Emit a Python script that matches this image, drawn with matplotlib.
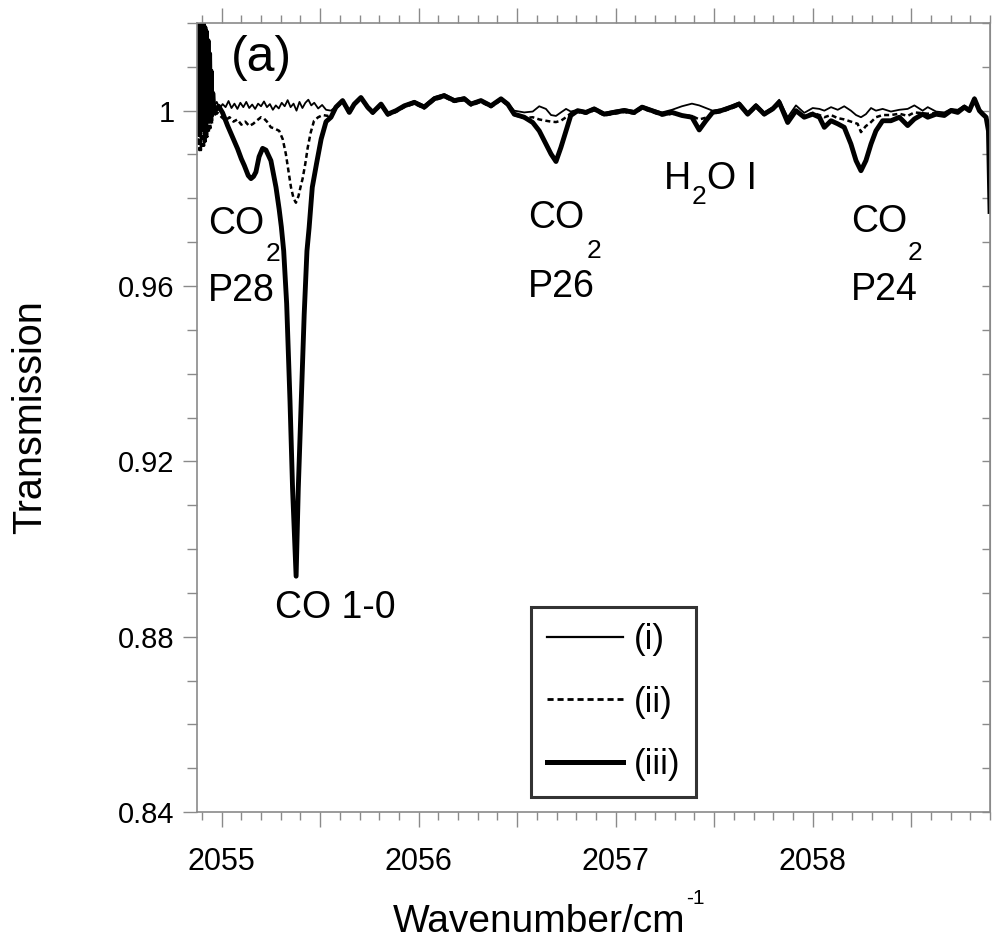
import matplotlib
matplotlib.use("Agg")
import matplotlib.pyplot as plt
from matplotlib.ticker import MultipleLocator, FuncFormatter
from matplotlib.lines import Line2D

# ---- data ------------------------------------------------------------------
wn_iii = [
    2054.875, 2054.879, 2054.883, 2054.887, 2054.891, 2054.895, 2054.899, 2054.903,
    2054.907, 2054.911, 2054.915, 2054.919, 2054.923, 2054.927, 2054.931, 2054.935,
    2054.939, 2054.943, 2054.947, 2054.951, 2054.955, 2054.962, 2054.985, 2055.005,
    2055.030, 2055.055, 2055.081, 2055.100, 2055.115, 2055.135, 2055.149, 2055.162,
    2055.174, 2055.190, 2055.208, 2055.225, 2055.250, 2055.276, 2055.292, 2055.303,
    2055.315, 2055.330, 2055.347, 2055.360, 2055.378, 2055.389, 2055.404, 2055.419,
    2055.433, 2055.444, 2055.460, 2055.482, 2055.505, 2055.530, 2055.555, 2055.580,
    2055.614, 2055.648, 2055.673, 2055.707, 2055.741, 2055.767, 2055.809, 2055.843,
    2055.885, 2055.927, 2055.978, 2056.028, 2056.079, 2056.130, 2056.181, 2056.232,
    2056.265, 2056.316, 2056.367, 2056.418, 2056.452, 2056.485, 2056.536, 2056.579,
    2056.612, 2056.646, 2056.672, 2056.697, 2056.722, 2056.748, 2056.772, 2056.807,
    2056.849, 2056.891, 2056.942, 2056.993, 2057.044, 2057.094, 2057.134, 2057.184,
    2057.235, 2057.286, 2057.336, 2057.387, 2057.424, 2057.458, 2057.492, 2057.535,
    2057.586, 2057.627, 2057.670, 2057.712, 2057.754, 2057.797, 2057.830, 2057.873,
    2057.915, 2057.957, 2058.000, 2058.034, 2058.059, 2058.093, 2058.127, 2058.160,
    2058.194, 2058.220, 2058.245, 2058.270, 2058.296, 2058.321, 2058.355, 2058.397,
    2058.440, 2058.482, 2058.516, 2058.558, 2058.584, 2058.626, 2058.668, 2058.702,
    2058.736, 2058.770, 2058.795, 2058.821, 2058.846, 2058.863, 2058.880, 2058.892,
    2058.900,
]
tr_iii = [
    1.021, 0.995, 1.021, 0.996, 1.021, 0.996, 1.020, 0.997,
    1.020, 0.997, 1.019, 0.997, 1.018, 0.998, 1.016, 0.998,
    1.013, 0.999, 1.009, 0.999, 1.004, 0.9996, 1.0010, 0.9995,
    0.9966, 0.9940, 0.9913, 0.9890, 0.9875, 0.9852, 0.9845, 0.9850,
    0.9860, 0.9895, 0.9914, 0.9910, 0.9886, 0.9825, 0.9775, 0.9735,
    0.9680, 0.9560, 0.9337, 0.9138, 0.8938, 0.9138, 0.9337, 0.9535,
    0.9680, 0.9733, 0.9825, 0.9880, 0.9935, 0.9975, 0.9985, 1.0008,
    1.0023, 0.9996, 1.0015, 1.0030, 1.0008, 0.9996, 1.0015, 0.9992,
    1.0000, 1.0011, 1.0019, 1.0008, 1.0027, 1.0034, 1.0023, 1.0027,
    1.0015, 1.0023, 1.0011, 1.0027, 1.0015, 0.9992, 0.9985, 0.9973,
    0.9954, 0.9924, 0.9901, 0.9884, 0.9916, 0.9954, 0.9989, 1.0000,
    0.9996, 1.0004, 0.9992, 0.9996, 1.0000, 0.9996, 1.0008, 1.0000,
    0.9992, 0.9996, 0.9989, 0.9985, 0.9956, 0.9977, 0.9996, 1.0000,
    1.0008, 1.0015, 0.9992, 1.0011, 0.9992, 1.0004, 1.0019, 0.9973,
    1.0000, 0.9985, 0.9992, 0.9985, 0.9962, 0.9977, 0.9970, 0.9962,
    0.9924, 0.9886, 0.9863, 0.9886, 0.9924, 0.9954, 0.9977, 0.9977,
    0.9985, 0.9966, 0.9981, 0.9992, 0.9985, 0.9992, 0.9989, 1.0000,
    0.9996, 1.0008, 1.0000, 1.0027, 1.0000, 0.9992, 0.9985, 0.9954,
    0.9770,
]

wn_ii = [
    2054.875, 2054.879, 2054.883, 2054.887, 2054.891, 2054.895, 2054.899, 2054.903,
    2054.907, 2054.911, 2054.915, 2054.919, 2054.923, 2054.927, 2054.931, 2054.935,
    2054.939, 2054.943, 2054.947, 2054.951, 2054.955, 2054.962, 2054.980, 2055.000,
    2055.020, 2055.040, 2055.060, 2055.080, 2055.100, 2055.120, 2055.140, 2055.160,
    2055.180, 2055.200, 2055.215, 2055.230, 2055.250, 2055.265, 2055.292, 2055.310,
    2055.326, 2055.340, 2055.352, 2055.365, 2055.377, 2055.390, 2055.400, 2055.411,
    2055.425, 2055.437, 2055.452, 2055.469, 2055.490, 2055.513, 2055.540, 2055.560,
    2055.580, 2055.614, 2055.648, 2055.673, 2055.707, 2055.741, 2055.767, 2055.809,
    2055.843, 2055.885, 2055.927, 2055.978, 2056.028, 2056.079, 2056.130, 2056.181,
    2056.232, 2056.265, 2056.316, 2056.367, 2056.418, 2056.452, 2056.485, 2056.536,
    2056.579, 2056.612, 2056.646, 2056.672, 2056.697, 2056.722, 2056.748, 2056.772,
    2056.807, 2056.849, 2056.891, 2056.942, 2056.993, 2057.044, 2057.094, 2057.134,
    2057.184, 2057.235, 2057.286, 2057.336, 2057.387, 2057.424, 2057.458, 2057.492,
    2057.535, 2057.586, 2057.627, 2057.670, 2057.712, 2057.754, 2057.797, 2057.830,
    2057.873, 2057.915, 2057.957, 2058.000, 2058.034, 2058.059, 2058.093, 2058.127,
    2058.160, 2058.194, 2058.228, 2058.245, 2058.270, 2058.287, 2058.321, 2058.355,
    2058.397, 2058.440, 2058.482, 2058.516, 2058.558, 2058.584, 2058.626, 2058.668,
    2058.702, 2058.736, 2058.770, 2058.795, 2058.821, 2058.846, 2058.863, 2058.880,
    2058.892, 2058.900,
]
tr_ii = [
    1.020, 0.992, 1.021, 0.991, 1.020, 0.991, 1.020, 0.992,
    1.019, 0.992, 1.018, 0.993, 1.017, 0.994, 1.015, 0.995,
    1.012, 0.996, 1.008, 0.997, 1.003, 0.9990, 0.9995, 0.9985,
    0.9978, 0.9985, 0.9975, 0.9980, 0.9968, 0.9975, 0.9965, 0.9970,
    0.9978, 0.9985, 0.9982, 0.9975, 0.9962, 0.9960, 0.9954, 0.9935,
    0.9901, 0.9860, 0.9825, 0.9800, 0.9790, 0.9805, 0.9825, 0.9845,
    0.9880, 0.9916, 0.9950, 0.9977, 0.9985, 0.9990, 0.9988, 0.9992,
    1.0005, 1.0020, 0.9993, 1.0012, 1.0027, 1.0005, 0.9993, 1.0012,
    0.9989, 0.9997, 1.0008, 1.0016, 1.0005, 1.0024, 1.0031, 1.0020,
    1.0024, 1.0012, 1.0020, 1.0008, 1.0024, 1.0012, 0.9990, 0.9983,
    0.9985, 0.9980, 0.9977, 0.9975, 0.9974, 0.9977, 0.9985, 0.9994,
    0.9997, 0.9993, 1.0001, 0.9989, 0.9993, 0.9997, 0.9993, 1.0005,
    0.9997, 0.9989, 0.9993, 0.9990, 0.9988, 0.9980, 0.9984, 0.9993,
    0.9997, 1.0005, 1.0012, 0.9990, 1.0008, 0.9990, 1.0002, 1.0016,
    0.9978, 0.9998, 0.9988, 0.9995, 0.9990, 0.9985, 0.9990, 0.9983,
    0.9980, 0.9975, 0.9970, 0.9951, 0.9965, 0.9970, 0.9985, 0.9990,
    0.9990, 0.9993, 0.9988, 0.9996, 0.9994, 0.9993, 0.9995, 0.9992,
    1.0002, 0.9998, 1.0010, 1.0002, 1.0028, 1.0002, 0.9994, 0.9987,
    0.9957, 0.9775,
]

wn_i = [
    2054.875, 2054.879, 2054.883, 2054.887, 2054.891, 2054.895, 2054.899, 2054.903,
    2054.907, 2054.911, 2054.915, 2054.919, 2054.923, 2054.927, 2054.931, 2054.935,
    2054.939, 2054.943, 2054.947, 2054.951, 2054.955, 2054.962, 2054.975, 2054.990,
    2055.005, 2055.020, 2055.035, 2055.050, 2055.065, 2055.080, 2055.095, 2055.110,
    2055.125, 2055.140, 2055.155, 2055.170, 2055.185, 2055.200, 2055.215, 2055.230,
    2055.245, 2055.260, 2055.275, 2055.290, 2055.305, 2055.320, 2055.335, 2055.350,
    2055.365, 2055.380, 2055.395, 2055.410, 2055.425, 2055.440, 2055.455, 2055.470,
    2055.490, 2055.510, 2055.530, 2055.555, 2055.580, 2055.614, 2055.648, 2055.673,
    2055.707, 2055.741, 2055.767, 2055.809, 2055.843, 2055.885, 2055.927, 2055.978,
    2056.028, 2056.079, 2056.130, 2056.181, 2056.232, 2056.265, 2056.316, 2056.367,
    2056.418, 2056.452, 2056.485, 2056.536, 2056.579, 2056.612, 2056.646, 2056.672,
    2056.697, 2056.722, 2056.748, 2056.772, 2056.807, 2056.849, 2056.891, 2056.942,
    2056.993, 2057.044, 2057.094, 2057.134, 2057.184, 2057.235, 2057.286, 2057.336,
    2057.387, 2057.424, 2057.458, 2057.492, 2057.535, 2057.586, 2057.627, 2057.670,
    2057.712, 2057.754, 2057.797, 2057.830, 2057.873, 2057.915, 2057.957, 2058.000,
    2058.034, 2058.059, 2058.093, 2058.127, 2058.160, 2058.194, 2058.220, 2058.245,
    2058.270, 2058.296, 2058.321, 2058.355, 2058.397, 2058.440, 2058.482, 2058.516,
    2058.558, 2058.584, 2058.626, 2058.668, 2058.702, 2058.736, 2058.770, 2058.795,
    2058.821, 2058.846, 2058.863, 2058.880, 2058.892, 2058.900,
]
tr_i = [
    1.021, 0.996, 1.021, 0.996, 1.021, 0.997, 1.020, 0.997,
    1.020, 0.998, 1.019, 0.998, 1.018, 0.998, 1.016, 0.999,
    1.013, 0.999, 1.009, 1.000, 1.005, 1.0010, 1.0020, 1.0005,
    1.0015, 1.0008, 1.0022, 1.0006, 1.0016, 1.0004, 1.0018, 1.0008,
    1.0020, 1.0006, 1.0014, 1.0004, 1.0016, 1.0010, 1.0021, 1.0008,
    1.0015, 1.0002, 1.0012, 1.0005, 1.0018, 1.0010, 1.0024, 1.0008,
    1.0016, 1.0000, 1.0020, 1.0006, 1.0018, 1.0025, 1.0012, 1.0018,
    1.0005, 1.0013, 1.0002, 1.0000, 1.0010, 1.0025, 0.9998, 1.0016,
    1.0031, 1.0010, 0.9998, 1.0016, 0.9994, 1.0002, 1.0013, 1.0022,
    1.0012, 1.0031, 1.0038, 1.0026, 1.0031, 1.0018, 1.0025, 1.0014,
    1.0029, 1.0018, 1.0000, 0.9996, 0.9998, 1.0010, 1.0004, 0.9990,
    0.9988, 0.9996, 1.0004, 0.9998, 1.0002, 0.9999, 1.0007, 0.9995,
    1.0000, 1.0004, 0.9999, 1.0011, 1.0003, 0.9996, 1.0002, 1.0010,
    1.0016, 1.0012, 1.0006, 1.0000, 1.0003, 1.0011, 1.0019, 0.9996,
    1.0015, 0.9996, 1.0008, 1.0025, 0.9985, 1.0012, 0.9995, 1.0006,
    1.0004, 1.0000, 1.0008, 1.0002, 1.0010, 1.0000, 0.9990, 0.9985,
    0.9992, 1.0006, 1.0000, 1.0004, 0.9998, 1.0002, 1.0004, 1.0012,
    1.0000, 1.0008, 0.9998, 0.9996, 1.0004, 1.0002, 1.0012, 1.0004,
    1.0030, 1.0004, 0.9996, 0.9988, 0.9960, 0.9780,
]

series_labels = ["(i)", "(ii)", "(iii)"]
y_ticks = [0.84, 0.88, 0.92, 0.96, 1.00]
y_tick_labels = ["0.84", "0.88", "0.92", "0.96", "1"]

TEXT_FONT = ["Liberation Sans", "DejaVu Sans"]
AXIS_GREY = "#8a8a8a"


def main():
    plt.rcParams["font.family"] = TEXT_FONT

    fig = plt.figure(figsize=(9.93, 9.46), dpi=100)
    ax = fig.add_axes([0.1984, 0.1416, 0.7986, 0.8341])

    ax.plot(wn_i, tr_i, color="black", lw=1.3, label=series_labels[0])
    ax.plot(wn_ii, tr_ii, color="black", lw=1.8, ls=(0, (2.0, 1.3)),
            label=series_labels[1])
    ax.plot(wn_iii, tr_iii, color="black", lw=3.5, label=series_labels[2])

    ax.set_xlim(2054.875, 2058.9)
    ax.set_ylim(0.84, 1.02)

    # x axis: ticks every 0.5 (labels on whole numbers), minor every 0.1
    ax.xaxis.set_major_locator(MultipleLocator(0.5))
    ax.xaxis.set_minor_locator(MultipleLocator(0.1))
    ax.xaxis.set_major_formatter(
        FuncFormatter(lambda v, p: f"{v:.0f}" if abs(v - round(v)) < 1e-6 else "")
    )
    ax.set_yticks(y_ticks)
    ax.set_yticklabels(y_tick_labels)
    ax.yaxis.set_minor_locator(MultipleLocator(0.01))

    ax.tick_params(axis="x", which="both", direction="out", top=True,
                   color=AXIS_GREY, width=1.0, labelsize=22, pad=14)
    ax.tick_params(axis="x", which="major", length=11)
    ax.tick_params(axis="x", which="minor", length=6)
    ax.tick_params(axis="y", which="both", direction="out", color=AXIS_GREY,
                   width=1.0, labelsize=21, pad=6)
    ax.tick_params(axis="y", which="major", length=10)
    ax.tick_params(axis="y", which="minor", length=7)

    right = ax.secondary_yaxis("right")
    right.yaxis.set_major_locator(MultipleLocator(0.01))
    right.tick_params(direction="in", length=6, color=AXIS_GREY, width=1.0,
                      labelright=False)
    right.spines["right"].set_color(AXIS_GREY)

    for side in ax.spines.values():
        side.set_color(AXIS_GREY)
        side.set_linewidth(1.2)

    ax.set_xlabel("Wavenumber/cm", fontsize=28)
    ax.xaxis.set_label_coords(0.431, -0.139)
    ax.xaxis.label.set_va("center")
    ax.text(0.617, -0.110, "-1", transform=ax.transAxes, fontsize=15,
            ha="left", va="center")
    ax.set_ylabel("Transmission", fontsize=28.5)
    ax.yaxis.set_label_coords(-0.210, 0.50)
    ax.yaxis.label.set_va("center")

    # annotations
    ax.text(2055.20, 1.0121, "(a)", fontsize=36, ha="center", va="center")
    lab = dict(fontsize=27, ha="left", va="center")
    sub = dict(fontsize=19, ha="left", va="center")
    ax.text(2054.930, 0.9742, "CO", **lab)
    ax.text(2055.225, 0.9672, "2", **sub)
    ax.text(2054.930, 0.9588, "P28", **lab)
    ax.text(2056.555, 0.9755, "CO", **lab)
    ax.text(2056.853, 0.9680, "2", **sub)
    ax.text(2056.555, 0.9598, "P26", **lab)
    ax.text(2058.195, 0.9747, "CO", **lab)
    ax.text(2058.480, 0.9676, "2", **sub)
    ax.text(2058.195, 0.9592, "P24", **lab)
    ax.text(2057.245, 0.9843, "H", **lab)
    ax.text(2057.383, 0.9803, "2", **sub)
    ax.text(2057.465, 0.9843, "O I", **lab)
    ax.text(2055.270, 0.8865, "CO 1-0", **lab)

    handles = [
        Line2D([], [], color="black", lw=1.6),
        Line2D([], [], color="black", lw=2.0, ls=(0, (2.2, 1.4))),
        Line2D([], [], color="black", lw=3.6),
    ]
    leg = ax.legend(handles, series_labels, loc="upper left",
                    bbox_to_anchor=(0.4212, 0.2598), fontsize=25,
                    frameon=True, fancybox=False, handlelength=2.2,
                    handletextpad=0.3, labelspacing=0.86, borderpad=0.45,
                    borderaxespad=0.0)
    leg.get_frame().set_edgecolor("black")
    leg.get_frame().set_linewidth(2.2)

    fig.savefig("out.png", dpi=100)
    plt.close(fig)


if __name__ == "__main__":
    main()
